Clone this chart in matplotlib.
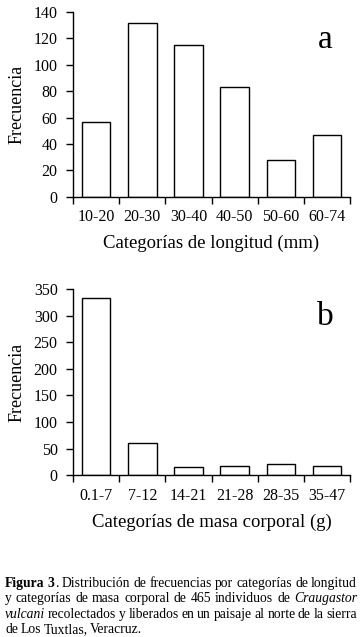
import numpy as np
import matplotlib.pyplot as plt

cat_long = ['10-20', '20-30', '30-40', '40-50', '50-60', '60-74']
frec_long = [57, 132, 115, 83, 28, 47]
cat_masa = ['0.1-7', '7-12', '14-21', '21-28', '28-35', '35-47']
frec_masa = [333, 61, 16, 17, 22, 17]

plt.rcParams['font.family'] = 'Liberation Serif'
plt.rcParams['font.size'] = 11.5

fig = plt.figure(figsize=(3.61, 6.37), dpi=100)
ax1 = fig.add_axes([0.202, 0.691, 0.768, 0.290])
ax2 = fig.add_axes([0.202, 0.254, 0.768, 0.292])


def panel(ax, cats, vals, ymax, ystep, xlabel, letter):
    x = np.arange(len(cats))
    ax.bar(x, vals, width=0.62, color='white', edgecolor='black', linewidth=1.0)
    ax.set_xlim(-0.5, len(cats) - 0.5)
    ax.set_ylim(0, ymax)
    ax.set_yticks(np.arange(0, ymax + 1, ystep))
    ax.set_xticks(np.arange(-0.5, len(cats)), [''] * (len(cats) + 1))
    ax.set_xticks(x, cats, minor=True)
    ax.tick_params(axis='x', which='minor', length=0, pad=9, labelsize=11.5)
    ax.tick_params(axis='x', which='major', length=5, width=1, color='black')
    ax.tick_params(axis='y', length=5, width=1, pad=6, labelsize=11.5)
    for s in ['top', 'right']:
        ax.spines[s].set_visible(False)
    for s in ['left', 'bottom']:
        ax.spines[s].set_linewidth(1.0)
    ax.set_ylabel('Frecuencia', fontsize=13, labelpad=6)
    ax.set_xlabel(xlabel, fontsize=13.5, labelpad=7)
    ax.text(0.91, 0.85, letter, transform=ax.transAxes, fontsize=24,
            ha='center', va='center')


panel(ax1, cat_long, frec_long, 140, 20, 'Categorías de longitud (mm)', 'a')
panel(ax2, cat_masa, frec_masa, 350, 50, 'Categorías de masa corporal (g)', 'b')

# caption, placed word by word and justified
lines = [
    [('Figura 3', 'bold'), ('. Distribución de frecuencias por categorías de longitud', 'normal')],
    [('y categorías de masa corporal de 465 individuos de ', 'normal'), ('Craugastor', 'italic')],
    [('vulcani', 'italic'), (' recolectados y liberados en un paisaje al norte de la sierra', 'normal')],
    [('de Los Tuxtlas, Veracruz.', 'normal')],
]
fs = 9.8
x0, x1 = 5, 357
ys = [587, 602, 618, 633]
fig.canvas.draw()
r = fig.canvas.get_renderer()
H = fig.get_figheight() * fig.dpi


def mk(word, style, x, y):
    kw = {}
    if style == 'bold':
        kw['fontweight'] = 'bold'
    if style == 'italic':
        kw['fontstyle'] = 'italic'
    return fig.text(x / 361, 1 - y / H, word, fontsize=fs, va='baseline', ha='left', **kw)


for li, (parts, y) in enumerate(zip(lines, ys)):
    words = []
    prev_end_space = True
    for txt, style in parts:
        toks = txt.split(' ')
        for i, t in enumerate(toks):
            if t == '':
                continue
            glue = (i == 0 and not prev_end_space and len(words) > 0)
            words.append([t, style, glue])
        prev_end_space = txt.endswith(' ')
    arts = []
    widths = []
    for w, st, g in words:
        t = mk(w, st, 0, y)
        arts.append(t)
        widths.append(t.get_window_extent(r).width)
    ngaps = sum(1 for w in words[1:] if not w[2])
    total = sum(widths)
    if li < 3 and ngaps > 0:
        gap = max((x1 - x0 - total) / ngaps, 1.0)
    else:
        gap = 2.5
    x = x0
    for k, ((w, st, g), t, wd) in enumerate(zip(words, arts, widths)):
        if k > 0 and not g:
            x += gap
        t.set_x(x / 361)
        x += wd

plt.savefig('out.png', dpi=100)
